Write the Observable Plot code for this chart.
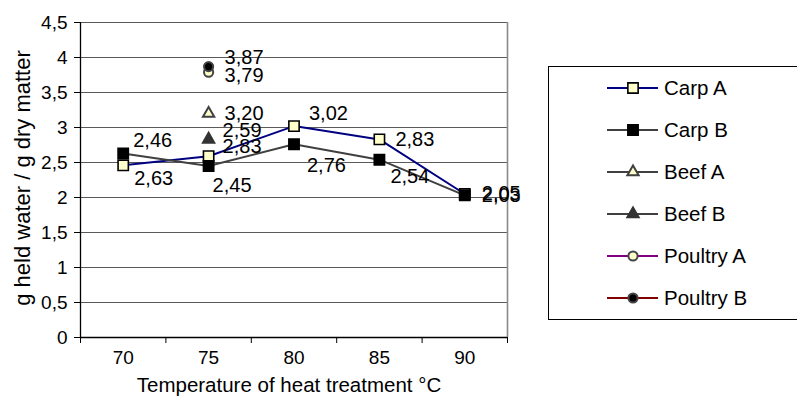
<!DOCTYPE html>
<html><head><meta charset="utf-8">
<script src="https://cdn.jsdelivr.net/npm/d3@7"></script>
<script src="https://cdn.jsdelivr.net/npm/@observablehq/plot@0.6"></script>
<style>body{margin:0;background:#fff} #chart svg{font-family:"Liberation Sans",Arial,sans-serif;background:#fff}</style>
</head><body><div id="chart"></div>
<script>
// ---- data ----
const temperatures = [70, 75, 80, 85, 90];
const seriesNames = ["Carp A", "Carp B", "Beef A", "Beef B", "Poultry A", "Poultry B"];
const carpA    = [2.46, 2.59, 3.02, 2.83, 2.05];
const carpB    = [2.63, 2.45, 2.76, 2.54, 2.03];
const beefA    = [null, 3.20, null, null, null];
const beefB    = [null, 2.83, null, null, null];
const poultryA = [null, 3.79, null, null, null];
const poultryB = [null, 3.87, null, null, null];
const yTicks = [0, 0.5, 1, 1.5, 2, 2.5, 3, 3.5, 4, 4.5];
const xTitle = "Temperature of heat treatment °C";
const yTitle = "g held water / g dry matter";

// ---- layout / style (not data) ----
const seriesValues = [carpA, carpB, beefA, beefB, poultryA, poultryB];
const styles = [
  {line: "#000080", symbol: "square",   fill: "#ffffcc", stroke: "#000",    r: 5.8, sw: 1.6},
  {line: "#404040", symbol: "square",   fill: "#000",    stroke: "#000",    r: 5.8, sw: 1.6},
  {line: "#404040", symbol: "triangle", fill: "#ffffcc", stroke: "#404040", r: 4.2, sw: 2},
  {line: "#404040", symbol: "triangle", fill: "#333",    stroke: "#333",    r: 4.2, sw: 2},
  {line: "#800080", symbol: "circle",   fill: "#ffffcc", stroke: "#444",    r: 4.6, sw: 2},
  {line: "#800000", symbol: "circle",   fill: "#000",    stroke: "#444",    r: 4.6, sw: 2}
];
// label nudges in pixels [dx, dy] per series per temperature
const labelNudge = [
  [[10,-25],[14,-26],[15,-13],[16,0],[17,0]],
  [[11,25],[4,20],[13,21],[11,17],[17,0]],
  [null,[16,0],null,null,null],
  [null,[14,7],null,null,null],
  [null,[16,3],null,null,null],
  [null,[16,-9],null,null,null]
];

const rows = [];
seriesNames.forEach((name, i) => seriesValues[i].forEach((v, j) => {
  if (v != null) rows.push({series: name, si: i, t: temperatures[j], v, j});
}));
const fmt = v => v.toFixed(2).replace(".", ",");
const step = temperatures[1] - temperatures[0];
const xDomain = [temperatures[0] - step / 2, temperatures[temperatures.length - 1] + step / 2];
const bounds = d3.range(temperatures.length + 1).map(i => xDomain[0] + i * step);

const marks = [
  Plot.gridY(yTicks, {stroke: "#5a5a5a", strokeOpacity: 1, strokeWidth: 1}),
  Plot.ruleX([xDomain[1]], {y1: yTicks[0], y2: yTicks[yTicks.length - 1], stroke: "#8a8a8a", strokeWidth: 1.6}),
];
seriesNames.forEach((name, i) => {
  const d = rows.filter(r => r.si === i);
  if (d.length > 1) marks.push(Plot.line(d, {x: "t", y: "v", stroke: styles[i].line, strokeWidth: 2}));
});
seriesNames.forEach((name, i) => {
  const s = styles[i];
  marks.push(Plot.dot(rows.filter(r => r.si === i), {x: "t", y: "v", symbol: s.symbol, r: s.r, fill: s.fill, stroke: s.stroke, strokeWidth: s.sw}));
});
rows.forEach(r => {
  const [dx, dy] = labelNudge[r.si][r.j];
  marks.push(Plot.text([r], {x: "t", y: "v", text: d => fmt(d.v), dx, dy, textAnchor: "start", fontSize: 20, fill: "#000"}));
});
marks.push(
  Plot.axisY({ticks: yTicks, tickSize: 6, tickPadding: 7, fontSize: 19, tickFormat: d => String(d).replace(".", ","), label: null, stroke: "#000"}),
  Plot.axisX({ticks: temperatures, tickSize: 0, tickPadding: 13, fontSize: 19, label: null}),
  Plot.axisX({ticks: bounds, tickSize: 6, tickFormat: () => "", label: null, stroke: "#000"}),
  Plot.ruleY([yTicks[0]], {stroke: "#000", strokeWidth: 1.3}),
  Plot.ruleX([xDomain[0]], {y1: yTicks[0], y2: yTicks[yTicks.length - 1], stroke: "#000", strokeWidth: 1.3}),
  Plot.text([xTitle], {frameAnchor: "bottom", dx: -5, dy: 54, textAnchor: "middle", fontSize: 20.5, fill: "#000"}),
  Plot.text([yTitle], {frameAnchor: "left", dx: -58, dy: -2, rotate: -90, textAnchor: "middle", fontSize: 22, fill: "#000"})
);

const plot = Plot.plot({
  width: 797, height: 407,
  marginLeft: 80, marginRight: 290, marginTop: 22, marginBottom: 70,
  x: {type: "linear", domain: xDomain},
  y: {domain: [yTicks[0], yTicks[yTicks.length - 1]]},
  style: {fontFamily: "Liberation Sans, Arial, sans-serif", fontSize: "17px", background: "#fff", color: "#000"},
  marks
});
document.getElementById("chart").appendChild(plot);

// ---- legend (drawn in the same svg) ----
const svg = d3.select(plot);
const lg = svg.append("g").attr("font-family", "Liberation Sans, Arial, sans-serif").attr("font-size", 20.5).attr("text-anchor", "start");
lg.append("rect").attr("x", 548.5).attr("y", 66.5).attr("width", 262).attr("height", 253).attr("fill", "#fff").attr("stroke", "#000").attr("stroke-width", 1);
const symMap = {square: d3.symbolSquare, triangle: d3.symbolTriangle, circle: d3.symbolCircle};
seriesNames.forEach((name, i) => {
  const s = styles[i];
  const y = 88 + i * 42;
  lg.append("line").attr("x1", 607).attr("x2", 658).attr("y1", y).attr("y2", y).attr("stroke", s.line).attr("stroke-width", 2);
  lg.append("path").attr("transform", `translate(633,${y})`)
    .attr("d", d3.symbol(symMap[s.symbol], Math.PI * s.r * s.r)())
    .attr("fill", s.fill).attr("stroke", s.stroke).attr("stroke-width", s.sw);
  lg.append("text").attr("x", 664).attr("y", y).attr("dy", "0.35em").attr("text-anchor", "start").attr("fill", "#000").text(name);
});
</script></body></html>
